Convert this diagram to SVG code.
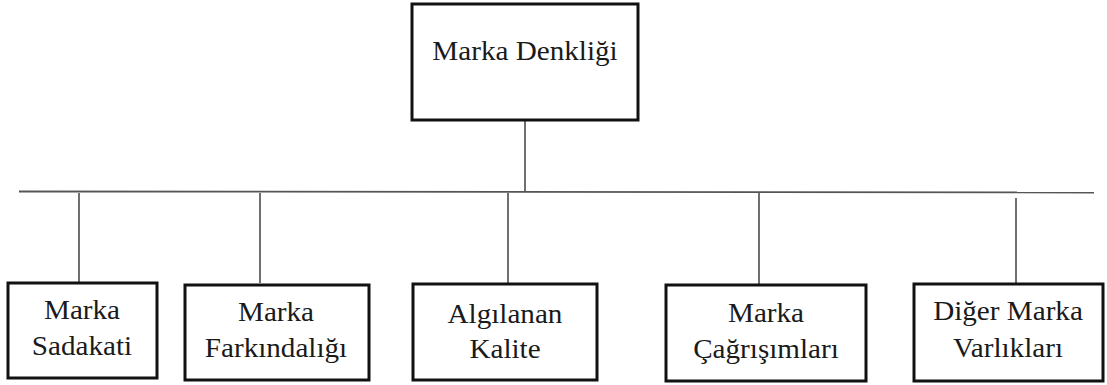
<svg xmlns="http://www.w3.org/2000/svg" width="1107" height="385" viewBox="0 0 1107 385">
<style>
.box{fill:#fff;stroke:#111;stroke-width:3}
text{font-family:'Liberation Serif','DejaVu Serif',serif;font-size:26.5px;fill:#1a1a1a;text-anchor:middle}
.c{stroke:#333;stroke-width:1.4;fill:none}
.h{stroke:#555;stroke-width:1.8;fill:none}
</style>
<rect width="1107" height="385" fill="#fff"/>
<g id="connectors">
<line class="c" x1="525" y1="121" x2="525" y2="191"/>
<line class="h" x1="19" y1="191.5" x2="1094" y2="192.5"/>
<line class="c" x1="79" y1="193" x2="79" y2="282"/>
<line class="c" x1="260" y1="193" x2="260" y2="283"/>
<line class="c" x1="508" y1="193" x2="508" y2="283"/>
<line class="c" x1="759" y1="193" x2="759" y2="284"/>
<line class="c" x1="1016" y1="198" x2="1016" y2="283"/>
</g>
<g id="marka-denkligi">
<rect class="box" x="412" y="4" width="226" height="116"/>
<text font-family="Liberation Serif, serif" transform="translate(525,60) scale(1.1,1)">Marka Denkliği</text>
</g>
<g id="marka-sadakati">
<rect class="box" x="8" y="283" width="149" height="95"/>
<text font-family="Liberation Serif, serif" transform="translate(82,319) scale(1.1,1)">Marka</text>
<text font-family="Liberation Serif, serif" transform="translate(82,355) scale(1.1,1)">Sadakati</text>
</g>
<g id="marka-farkindaligi">
<rect class="box" x="185" y="285" width="184" height="95"/>
<text font-family="Liberation Serif, serif" transform="translate(276,321) scale(1.1,1)">Marka</text>
<text font-family="Liberation Serif, serif" transform="translate(276,357) scale(1.1,1)">Farkındalığı</text>
</g>
<g id="algilanan-kalite">
<rect class="box" x="413" y="284" width="184" height="96"/>
<text font-family="Liberation Serif, serif" transform="translate(505,323) scale(1.1,1)">Algılanan</text>
<text font-family="Liberation Serif, serif" transform="translate(505,358) scale(1.1,1)">Kalite</text>
</g>
<g id="marka-cagrisimlari">
<rect class="box" x="666" y="285" width="200" height="96"/>
<text font-family="Liberation Serif, serif" transform="translate(766,322) scale(1.1,1)">Marka</text>
<text font-family="Liberation Serif, serif" transform="translate(766,358) scale(1.1,1)">Çağrışımları</text>
</g>
<g id="diger-marka-varliklari">
<rect class="box" x="914" y="284" width="189" height="97"/>
<text font-family="Liberation Serif, serif" transform="translate(1008,320) scale(1.1,1)">Diğer Marka</text>
<text font-family="Liberation Serif, serif" transform="translate(1008,357) scale(1.1,1)">Varlıkları</text>
</g>
</svg>
